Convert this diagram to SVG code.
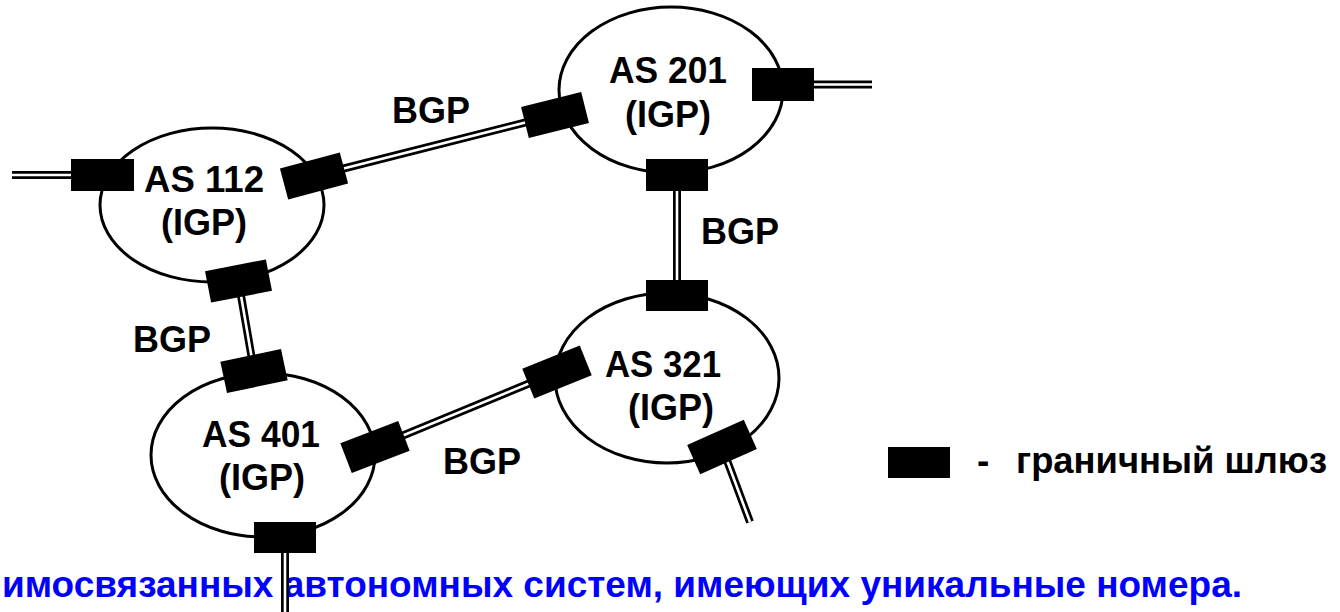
<svg xmlns="http://www.w3.org/2000/svg" width="1340" height="612" viewBox="0 0 1340 612">
<style>
.as{fill:#fff;stroke:#000;stroke-width:3}
.gw{fill:#000}
.lbl{font-family:"Liberation Sans",Arial,sans-serif;font-weight:bold;font-size:37.5px;fill:#000}
.leg{font-family:"Liberation Sans",Arial,sans-serif;font-weight:bold;font-size:37px;fill:#000}
.mid{text-anchor:middle}
.outer{stroke:#000;stroke-width:8;fill:none}
.inner{stroke:#fff;stroke-width:2.6;fill:none}
.cap{font-family:"Liberation Sans",Arial,sans-serif;font-weight:bold;font-size:37.5px;fill:#0000ff}
</style>
<rect width="1340" height="612" fill="#fff"/>
<text class="cap" x="2" y="597" textLength="1240" lengthAdjust="spacingAndGlyphs">имосвязанных автономных систем, имеющих уникальные номера.</text>
<g id="connectors">
<path class="outer" d="M12 175H102 M783 84.5H872 M314 176L555 115 M238.5 281L254 371 M677 175V296 M375 447L557 372 M722 447L750 522 M285 537V612"/>
<path class="inner" d="M12 175H102 M783 84.5H872 M314 176L555 115 M238.5 281L254 371 M677 175V296 M375 447L557 372 M722 447L750 522 M285 537V612"/>
</g>
<g id="as112">
<ellipse class="as" cx="212" cy="205" rx="112" ry="77"/>
<text class="lbl mid" x="204" y="192" textLength="120" lengthAdjust="spacingAndGlyphs">AS 112</text>
<text class="lbl mid" x="204" y="235" textLength="86" lengthAdjust="spacingAndGlyphs">(IGP)</text>
<rect class="gw" x="71" y="159" width="63" height="32"/>
<rect class="gw" x="-31" y="-16" width="62" height="32" transform="translate(314 176) rotate(-15)"/>
<rect class="gw" x="-31" y="-16" width="62" height="32" transform="translate(238.5 281) rotate(-11)"/>
</g>
<g id="as201">
<ellipse class="as" cx="671" cy="90" rx="112" ry="83"/>
<text class="lbl mid" x="668" y="83" textLength="118" lengthAdjust="spacingAndGlyphs">AS 201</text>
<text class="lbl mid" x="668" y="127" textLength="86" lengthAdjust="spacingAndGlyphs">(IGP)</text>
<rect class="gw" x="-31" y="-16" width="62" height="32" transform="translate(555 115) rotate(-14)"/>
<rect class="gw" x="752" y="68" width="62" height="33"/>
<rect class="gw" x="646" y="159" width="62" height="32"/>
</g>
<g id="as321">
<ellipse class="as" cx="667" cy="378" rx="112" ry="85"/>
<text class="lbl mid" x="663" y="377" textLength="116" lengthAdjust="spacingAndGlyphs">AS 321</text>
<text class="lbl mid" x="671" y="420" textLength="86" lengthAdjust="spacingAndGlyphs">(IGP)</text>
<rect class="gw" x="646" y="280" width="62" height="31"/>
<rect class="gw" x="-31" y="-16" width="62" height="32" transform="translate(557 372) rotate(-22)"/>
<rect class="gw" x="-31" y="-16" width="62" height="32" transform="translate(722 447) rotate(-24)"/>
</g>
<g id="as401">
<ellipse class="as" cx="263" cy="455" rx="112" ry="82"/>
<text class="lbl mid" x="261" y="447" textLength="118" lengthAdjust="spacingAndGlyphs">AS 401</text>
<text class="lbl mid" x="262" y="490" textLength="86" lengthAdjust="spacingAndGlyphs">(IGP)</text>
<rect class="gw" x="-31" y="-16" width="62" height="32" transform="translate(254 371) rotate(-12)"/>
<rect class="gw" x="-31" y="-16" width="62" height="32" transform="translate(375 447) rotate(-21)"/>
<rect class="gw" x="254" y="522" width="62" height="31"/>
</g>
<g id="bgp-labels">
<text class="lbl" x="392" y="123" textLength="78" lengthAdjust="spacingAndGlyphs">BGP</text>
<text class="lbl" x="701" y="244" textLength="78" lengthAdjust="spacingAndGlyphs">BGP</text>
<text class="lbl" x="133" y="352" textLength="78" lengthAdjust="spacingAndGlyphs">BGP</text>
<text class="lbl" x="443" y="474" textLength="78" lengthAdjust="spacingAndGlyphs">BGP</text>
</g>
<g id="legend">
<rect class="gw" x="888" y="447" width="62" height="31"/>
<text class="leg" x="977" y="473">-</text>
<text class="leg" x="1016" y="473" textLength="311" lengthAdjust="spacingAndGlyphs">граничный шлюз</text>
</g>
</svg>
